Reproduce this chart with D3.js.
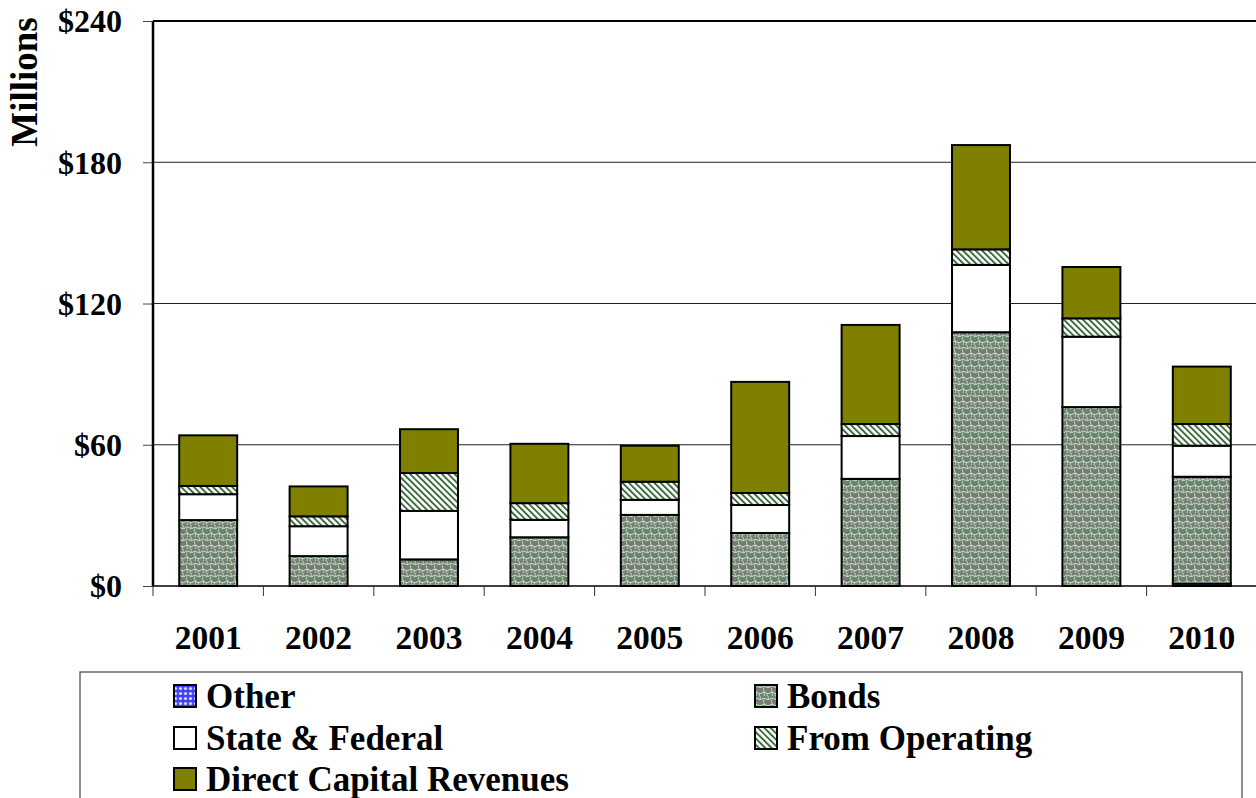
<!DOCTYPE html>
<html>
<head>
<meta charset="utf-8">
<script src="https://cdn.jsdelivr.net/npm/d3@7"></script>
<style>
  body { margin: 0; background: #fff; }
  svg { display: block; font-family: "Liberation Serif", "Times New Roman", serif; font-weight: bold; }
</style>
</head>
<body>
<svg id="chart"></svg>
<script>
const years = ["2001", "2002", "2003", "2004", "2005", "2006", "2007", "2008", "2009", "2010"];
const seriesNames = ["Other", "Bonds", "State & Federal", "From Operating", "Direct Capital Revenues"];
const other   = [0, 0, 0, 0, 0, 0, 0, 0, 0, 1.0];
const bonds   = [28.0, 12.7, 11.3, 20.7, 30.2, 22.5, 45.5, 107.8, 76.0, 45.4];
const stateFed = [11.0, 12.7, 20.6, 7.4, 6.4, 11.9, 18.2, 28.6, 29.9, 13.2];
const fromOp  = [3.5, 4.2, 16.1, 7.1, 7.7, 5.1, 5.1, 6.6, 7.8, 9.2];
const direct  = [21.5, 12.7, 18.6, 25.2, 15.3, 47.2, 42.1, 44.3, 21.8, 24.4];
const yTicks = [0, 60, 120, 180, 240];

const W = 1256, H = 798;
const margin = { top: 21, left: 153 };
const width = 1104, height = 565;

const svg = d3.select("#chart").attr("width", W).attr("height", H);

// patterns
const defs = svg.append("defs");
const pBonds = defs.append("pattern").attr("id", "p-bonds")
  .attr("patternUnits", "userSpaceOnUse").attr("width", 16).attr("height", 12);
pBonds.append("rect").attr("width", 16).attr("height", 12).attr("fill", "#7a7a7a");
pBonds.append("path")
  .attr("d", "M0,3 C3,0 5,5 8,3 C11,1 13,5 16,3 M2,3.5 C0,6 4,8 2,12 M10,3.5 C8,6 12,8 10,12 M0,9 C3,7 5,11 8,9 C11,7 13,11 16,9 M6,9.5 C4,12 6,13 6,12 M6,0 C6,1 7,2 5.5,3.5 M14,9.5 C12,12 14,13 14,12 M14,0 C14,1 15,2 13.5,3.5")
  .attr("fill", "none").attr("stroke", "#b4f0b4").attr("stroke-width", 1);

const pOp = defs.append("pattern").attr("id", "p-op")
  .attr("patternUnits", "userSpaceOnUse").attr("width", 4.5).attr("height", 4.5)
  .attr("patternTransform", "rotate(-45)");
pOp.append("rect").attr("width", 4.5).attr("height", 4.5).attr("fill", "#fff");
pOp.append("rect").attr("width", 1.9).attr("height", 4.5).attr("fill", "#3b6b3b");

const pOther = defs.append("pattern").attr("id", "p-other")
  .attr("patternUnits", "userSpaceOnUse").attr("width", 5).attr("height", 5);
pOther.append("rect").attr("width", 5).attr("height", 5).attr("fill", "#4040ff");
pOther.append("circle").attr("cx", 2.5).attr("cy", 2.5).attr("r", 1.6).attr("fill", "#d8d8ff");

const fills = {
  "Other": "url(#p-other)",
  "Bonds": "url(#p-bonds)",
  "State & Federal": "#ffffff",
  "From Operating": "url(#p-op)",
  "Direct Capital Revenues": "#808000"
};

const table = years.map((yr, i) => ({
  year: yr,
  "Other": other[i],
  "Bonds": bonds[i],
  "State & Federal": stateFed[i],
  "From Operating": fromOp[i],
  "Direct Capital Revenues": direct[i]
}));

const stacked = d3.stack().keys(seriesNames)(table);

const g = svg.append("g").attr("transform", `translate(${margin.left},${margin.top})`);

const x = d3.scaleBand().domain(years).range([0, width]).paddingInner(0.475).paddingOuter(0.2375);
const xb = d3.scaleBand().domain(years).range([0, width]);
const y = d3.scaleLinear().domain([0, 240]).range([height, 0]);

// gridlines
g.append("g").selectAll("line").data(yTicks.filter(d => d > 0)).join("line")
  .attr("x1", 0).attr("x2", width)
  .attr("y1", d => y(d)).attr("y2", d => y(d))
  .attr("stroke", d => d === 240 ? "#000" : "#222").attr("stroke-width", d => d === 240 ? 2 : 1);

// y axis ticks and labels
const yAxis = g.append("g").call(d3.axisLeft(y).tickValues(yTicks).tickSize(10).tickFormat(d => "$" + d));
yAxis.select(".domain").remove();
yAxis.selectAll(".tick line").attr("stroke", "#444");
yAxis.selectAll(".tick text").attr("font-size", 32).attr("font-family", "Liberation Serif")
  .attr("font-weight", "bold").attr("fill", "#000").attr("x", -31).attr("dy", "0.34em");

// bars
g.append("g").selectAll("g").data(stacked).join("g")
  .attr("fill", d => fills[d.key])
  .selectAll("rect").data(d => d.filter(s => s[1] - s[0] > 0)).join("rect")
  .attr("x", d => x(d.data.year))
  .attr("width", x.bandwidth())
  .attr("y", d => y(d[1]))
  .attr("height", d => y(d[0]) - y(d[1]))
  .attr("stroke", "#000").attr("stroke-width", 2);

// axes lines
g.append("line").attr("x1", 0).attr("x2", 0).attr("y1", 0).attr("y2", height)
  .attr("stroke", "#000").attr("stroke-width", 2.5);
g.append("line").attr("x1", 0).attr("x2", width).attr("y1", height).attr("y2", height)
  .attr("stroke", "#000").attr("stroke-width", 1.5);

// category boundary ticks
g.append("g").selectAll("line").data(years).join("line")
  .attr("x1", d => xb(d)).attr("x2", d => xb(d))
  .attr("y1", height).attr("y2", height + 10)
  .attr("stroke", "#333").attr("stroke-width", 1);

// x labels
g.append("g").selectAll("text").data(years).join("text")
  .attr("x", d => xb(d) + xb.bandwidth() / 2)
  .attr("y", height + 63)
  .attr("text-anchor", "middle")
  .attr("font-size", 33.5)
  .text(d => d);

// y label
svg.append("text")
  .attr("transform", "translate(37,82) rotate(-90)")
  .attr("text-anchor", "middle")
  .attr("font-size", 37)
  .text("Millions");

// legend
const legend = svg.append("g");
legend.append("rect").attr("x", 80).attr("y", 672).attr("width", 1162).attr("height", 140)
  .attr("fill", "#fff").attr("stroke", "#444").attr("stroke-width", 1.2);

const legendPos = [
  { key: "Other", x: 173, y: 696 },
  { key: "Bonds", x: 754, y: 696 },
  { key: "State & Federal", x: 173, y: 738 },
  { key: "From Operating", x: 754, y: 738 },
  { key: "Direct Capital Revenues", x: 173, y: 779 }
];
const li = legend.selectAll("g.item").data(legendPos).join("g").attr("class", "item")
  .attr("transform", d => `translate(${d.x},${d.y})`);
li.append("rect").attr("x", 1).attr("y", -11).attr("width", 22).attr("height", 22)
  .attr("fill", d => fills[d.key]).attr("stroke", "#000").attr("stroke-width", 2);
li.append("text").attr("x", 33).attr("dy", "0.34em").attr("font-size", 35).text(d => d.key);
</script>
</body>
</html>
